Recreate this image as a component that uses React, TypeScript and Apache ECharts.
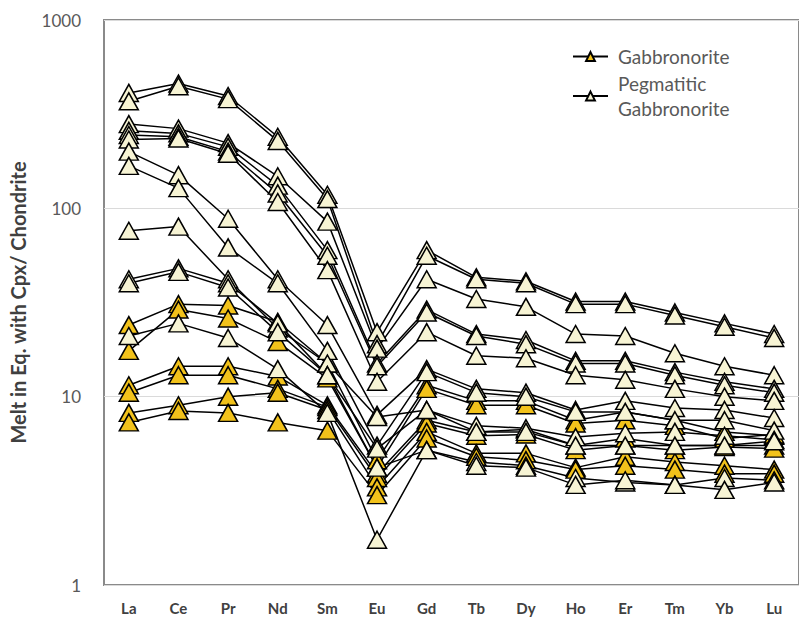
import React, { useEffect, useRef } from "react";
import * as echarts from "echarts";

const categories = ["La", "Ce", "Pr", "Nd", "Sm", "Eu", "Gd", "Tb", "Dy", "Ho", "Er", "Tm", "Yb", "Lu"];
const yTicks = [1, 10, 100, 1000];

// Gabbronorite samples
const gab1 = [24, 31, 30.5, 25, 15, 4.6, 11.5, 9.5, 9.5, 7.5, 8.3, 7.5, 6.5, 6.2];
const gab2 = [17.5, 29, 26, 19.5, 12.5, 4.2, 11, 9, 9, 7.2, 7.5, 7, 6, 6.3];
const gab3 = [11.5, 14.5, 14.5, 12.8, 9, 3.9, 7.5, 6.5, 6.7, 5.5, 6, 5.5, 5.5, 5.5];
const gab4 = [10.5, 13, 13, 11, 8.8, 3.7, 7.2, 6.2, 6.3, 5.2, 5.5, 5.2, 5.4, 5.3];
const gab5 = [8.2, 9, 10, 10.5, 8.5, 3.3, 6.5, 5, 5, 4.2, 4.8, 4.5, 4.3, 4.1];
const gab6 = [7.3, 8.4, 8.2, 7.3, 6.6, 3.0, 6, 4.8, 4.6, 4.1, 4.3, 4.1, 3.9, 3.9];

// Pegmatitic gabbronorite samples
const peg1 = [410, 460, 395, 240, 118, 22, 60, 43, 41, 32, 32, 28, 24.5, 21.5];
const peg2 = [370, 445, 380, 228, 112, 19, 56, 42, 40, 31, 31, 27, 23.5, 20.5];
const peg3 = [280, 265, 222, 148, 85, 18, 42, 33, 30, 21.5, 21, 17, 14.5, 13];
const peg4 = [258, 250, 212, 132, 60, 15, 29, 21.5, 20, 15.5, 15.5, 13.5, 12, 11];
const peg5 = [245, 240, 200, 120, 56, 14.5, 28, 21, 19, 15, 15, 13, 11.5, 10.5];
const peg6 = [232, 235, 195, 108, 47, 12, 22, 16.5, 16, 13, 12.3, 11, 10, 9.5];
const peg7 = [200, 150, 88, 42, 24, 8, 14, 11, 10.5, 8.5, 9.5, 8.7, 8.5, 7.7];
const peg8 = [168, 128, 62, 40, 17.5, 5.5, 13.5, 10.5, 10, 8.3, 8.3, 7.5, 7.5, 6.6];
const peg9 = [76, 80, 42, 23, 15, 7.8, 8.5, 7, 6.8, 6.1, 6.4, 6.5, 6.2, 5.9];
const peg10 = [42, 48, 40, 24.5, 13, 5.3, 8.5, 6.5, 6.5, 5.5, 5.5, 5.5, 5.5, 5.8];
const peg11 = [40, 46, 38, 22, 13, 4.2, 5.2, 4.5, 4.3, 3.7, 3.5, 3.4, 3.7, 3.6];
const peg12 = [21, 24.5, 20.5, 14, 8.2, 1.74, 5.2, 4.3, 4.2, 3.4, 3.6, 3.4, 3.2, 3.5];

const gabbronoriteSamples = [gab1, gab2, gab3, gab4, gab5, gab6];
const pegmatiticSamples = [peg1, peg2, peg3, peg4, peg5, peg6, peg7, peg8, peg9, peg10, peg11, peg12];

const GAB_NAME = "Gabbronorite";
const PEG_NAME = "Pegmatitic Gabbronorite";

const FONT = "Lato, 'Open Sans', sans-serif";

function makeSeries(name: string, data: number[], fill: string) {
  return {
    name,
    type: "line",
    data,
    symbol: "triangle",
    symbolSize: [19, 17],
    itemStyle: { color: fill, borderColor: "#000", borderWidth: 1.5 },
    lineStyle: { color: "#000", width: 1.5 },
    emphasis: { disabled: true },
  };
}

export default function App() {
  const ref = useRef<HTMLDivElement>(null);
  useEffect(() => {
    if (!ref.current) return;
    const chart = echarts.init(ref.current, undefined, { renderer: "svg" });
    const series = [
      ...gabbronoriteSamples.map((d) => makeSeries(GAB_NAME, d, "#F2C21B")),
      ...pegmatiticSamples.map((d) => makeSeries(PEG_NAME, d, "#F7F4D4")),
    ];
    chart.setOption({
      animation: false,
      backgroundColor: "#fff",
      grid: {
        left: 103,
        top: 20,
        width: 699,
        height: 565,
        show: true,
        borderColor: "#8a8a8a",
        borderWidth: 2,
      },
      legend: {
        data: [GAB_NAME, PEG_NAME],
        orient: "vertical",
        left: 567,
        top: 39,
        itemWidth: 35,
        itemHeight: 11,
        itemGap: 2,
        formatter: (n: string) => (n === PEG_NAME ? "Pegmatitic\nGabbronorite" : n),
        textStyle: {
          fontFamily: FONT,
          fontSize: 19,
          color: "#595959",
          lineHeight: 25,
          padding: [0, 0, 0, 5],
        },
      },
      xAxis: {
        type: "category",
        data: categories,
        boundaryGap: true,
        axisLine: { show: false },
        axisTick: { show: false },
        axisLabel: {
          fontFamily: FONT,
          fontSize: 15,
          fontWeight: "bold",
          color: "#404040",
          margin: 15,
        },
      },
      yAxis: {
        type: "log",
        logBase: 10,
        min: yTicks[0],
        max: yTicks[yTicks.length - 1],
        axisLine: { show: false },
        axisTick: { show: false },
        splitLine: { show: true, lineStyle: { color: "#dadada", width: 1 } },
        axisLabel: {
          fontFamily: FONT,
          fontSize: 17,
          color: "#595959",
          margin: 23,
          formatter: (v: number) => String(Math.round(v)),
        },
        name: "Melt in Eq. with Cpx/ Chondrite",
        nameLocation: "middle",
        nameRotate: 90,
        nameGap: 76,
        nameTextStyle: {
          fontFamily: FONT,
          fontSize: 20,
          fontWeight: "bold",
          color: "#404040",
        },
      },
      series,
    });
    return () => chart.dispose();
  }, []);
  return (
    <div
      ref={ref}
      style={{ position: "fixed", left: 0, top: 0, width: 799, height: 627, background: "#fff" }}
    />
  );
}
